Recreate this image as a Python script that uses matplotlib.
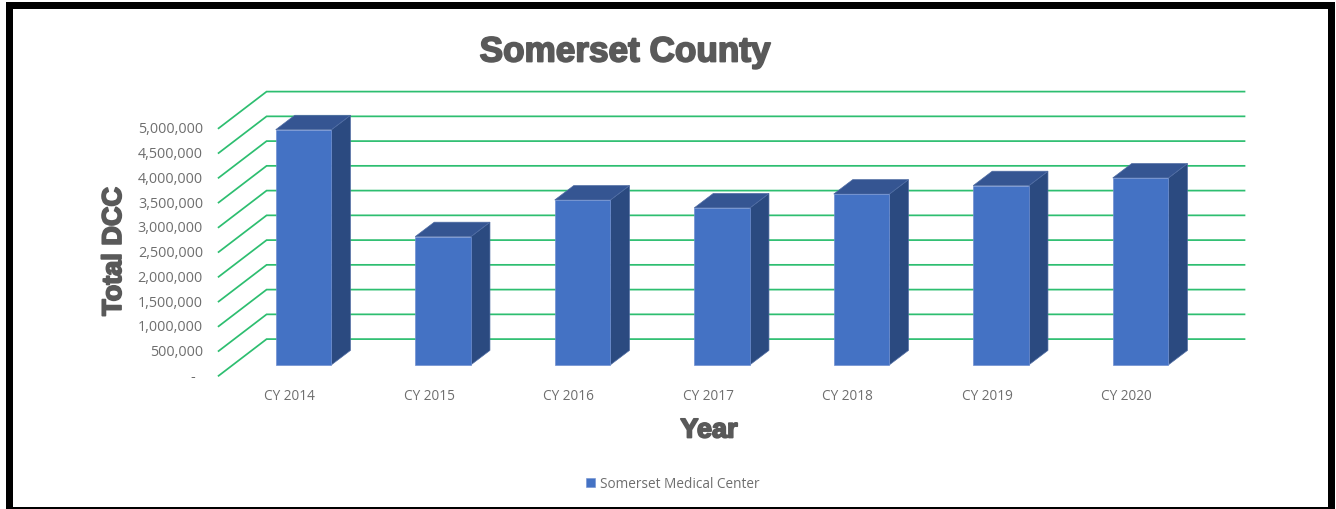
import matplotlib
matplotlib.use("Agg")
import matplotlib.pyplot as plt
import matplotlib.patches as patches
import matplotlib.patheffects as pe

years = ['CY 2014', 'CY 2015', 'CY 2016', 'CY 2017', 'CY 2018', 'CY 2019', 'CY 2020']
dcc = [4750000, 2590000, 3330000, 3170000, 3450000, 3620000, 3775000]
y_ticks = [0, 500000, 1000000, 1500000, 2000000, 2500000, 3000000, 3500000, 4000000, 4500000, 5000000]

W, H = 1336, 510
X0, X_STEP = 303.6, 139.5     # pixel of first bar centre, pixels per category
Y0, Y_SCALE = 365.8, 49.5e-6  # pixel of value 0 on the bar front, pixels per unit

fig = plt.figure(figsize=(W / 100, H / 100), dpi=100, facecolor='white')
ax = fig.add_axes([0, 0, 1, 1])
ax.set_xlim(-X0 / X_STEP, (W - X0) / X_STEP)
ax.set_ylim((Y0 - H) / Y_SCALE, Y0 / Y_SCALE)
ax.axis('off')

# depth offsets, in data units
bar_w = 55.7 / X_STEP
bar_dx = 19.0 / X_STEP
bar_dy = 14.4 / Y_SCALE
floor_front_x, floor_front_y = -85.0 / X_STEP, -11.0 / Y_SCALE
floor_back_x, floor_back_y = -37.0 / X_STEP, 25.7 / Y_SCALE
right_x = (1244.5 - X0) / X_STEP

GREEN = '#2DBE70'
GREY = '#595959'
TICK = '#6E6E6E'

# gridlines: slanted part on the side wall, flat part on the back wall
for v in y_ticks:
    ax.plot([floor_front_x, floor_back_x, right_x],
            [v + floor_front_y, v + floor_back_y, v + floor_back_y],
            color=GREEN, lw=1.25, solid_joinstyle='miter', zorder=1)
    label = f'{v:,}' if v else '-'
    ax.text((203 - X0) / X_STEP if v else (195 - X0) / X_STEP, v + floor_front_y - 0.5 / Y_SCALE, label,
            ha='right', va='center', fontsize=10.4, color=TICK, family='Open Sans')

# bars
for i, v in enumerate(dcc):
    l, r = i - bar_w / 2, i + bar_w / 2
    ax.bar(i, v, width=bar_w, color='#4472C4', edgecolor='#6F8FD0', lw=0.5, zorder=3)
    ax.add_patch(patches.Polygon([(r, 0), (r + bar_dx, bar_dy), (r + bar_dx, v + bar_dy), (r, v)],
                                 facecolor='#2B4A80', edgecolor='#4F6CA3', lw=0.5, zorder=2))
    ax.add_patch(patches.Polygon([(l, v), (l + bar_dx, v + bar_dy), (r + bar_dx, v + bar_dy), (r, v)],
                                 facecolor='#355592', edgecolor='#4F6CA3', lw=0.5, zorder=2))
    ax.text(i - 14.0 / X_STEP, (Y0 - 396.8) / Y_SCALE, years[i], ha='center', va='center',
            fontsize=9.8, color=TICK, family='Open Sans')

heavy = [pe.withStroke(linewidth=1.3, foreground=GREY)]
fig.text(625 / W, 1 - 53 / H, 'Somerset County', ha='center', va='center', fontsize=25.3,
         fontweight='bold', family='Liberation Sans', color=GREY, path_effects=heavy)
fig.text(709 / W, 1 - 431.5 / H, 'Year', ha='center', va='center', fontsize=19.5,
         fontweight='bold', family='Liberation Sans', color=GREY, path_effects=heavy)
fig.text(114 / W, 1 - 252.5 / H, 'Total DCC', ha='center', va='center', rotation=90, fontsize=19.5,
         fontweight='bold', family='Liberation Sans', color=GREY, path_effects=heavy)

# legend
handle = patches.Patch(facecolor='#4472C4', edgecolor='#6F8FD0', lw=0.4)
fig.legend([handle], ['Somerset Medical Center'], loc='center', bbox_to_anchor=(673 / W, 1 - 484.5 / H),
           frameon=False, handlelength=0.62, handleheight=0.62, handletextpad=0.4,
           prop={'family': 'Open Sans', 'size': 9.8}, labelcolor=TICK)

# black picture frame: left, right, top, bottom strips in pixels
for x0, y0, x1, y1 in [(6, 3, 12.6, 510), (1328, 3, 1334.6, 510), (6, 3, 1334.6, 9.6), (6, 508, 1334.6, 510)]:
    fig.add_artist(patches.Rectangle((x0 / W, 1 - y1 / H), (x1 - x0) / W, (y1 - y0) / H,
                                     transform=fig.transFigure, facecolor='black', edgecolor='none'))

fig.savefig('out.png', dpi=100)
